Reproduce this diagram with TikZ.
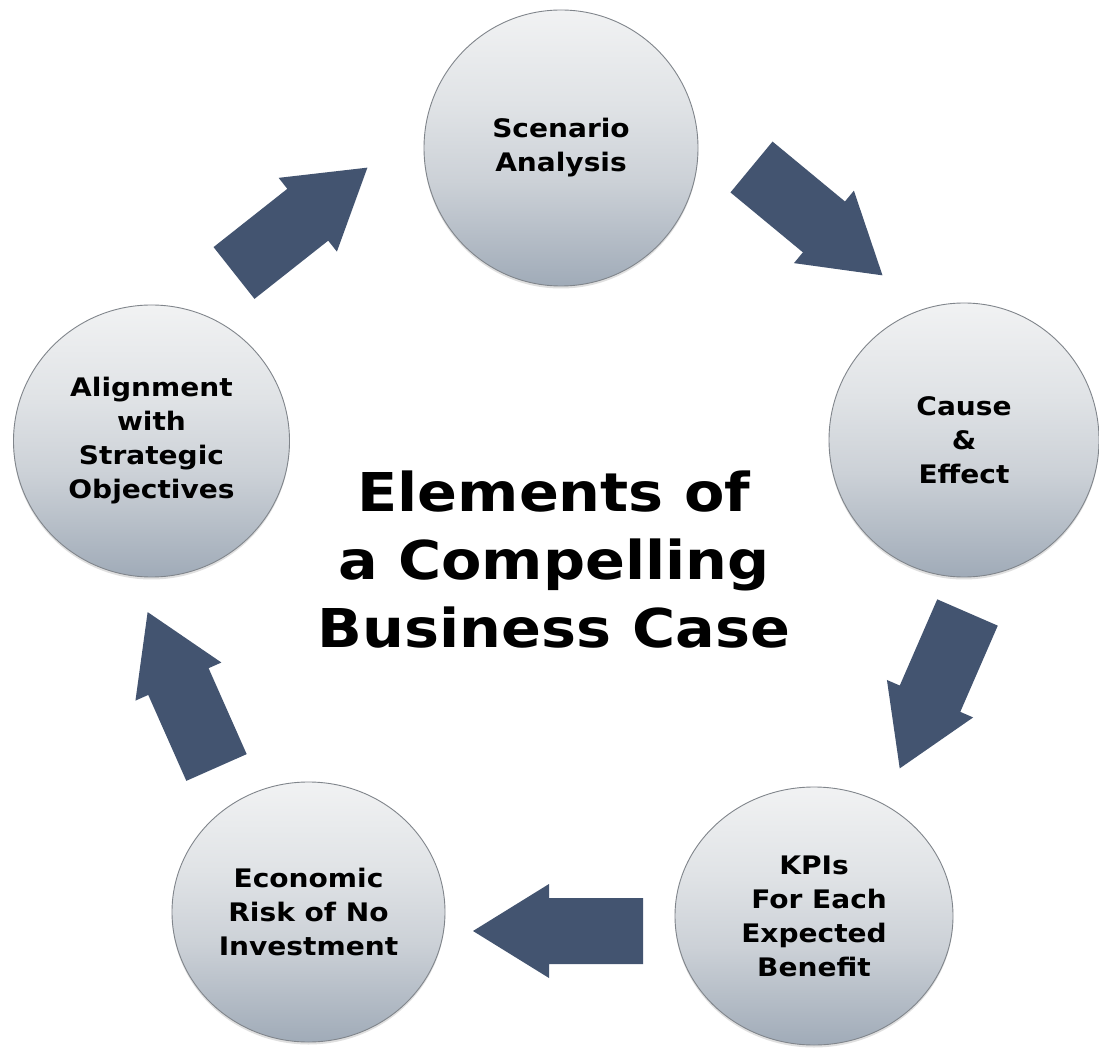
\documentclass[tikz,border=0pt]{standalone}
\usepackage{fontspec}
\newfontfamily\diagfont{DejaVu Sans}[FakeStretch=1.1]
\usetikzlibrary{shapes.geometric,shadows}

\definecolor{arrowblue}{RGB}{67,84,112}
\definecolor{discTop}{RGB}{241,242,243}
\definecolor{discUpper}{RGB}{224,227,230}
\definecolor{discLower}{RGB}{204,209,215}
\definecolor{discBot}{RGB}{160,171,184}
\definecolor{discEdge}{RGB}{128,133,139}

% light at the top, darkening towards the bottom of each disc
\pgfdeclareverticalshading{discshade}{100bp}{
  color(0bp)=(discBot); color(25bp)=(discBot); color(44bp)=(discLower);
  color(58bp)=(discUpper); color(75bp)=(discTop); color(100bp)=(discTop)}

\tikzset{
  disc/.style={ellipse, draw=discEdge, line width=0.9pt,
    shading=discshade,
    drop shadow={shadow xshift=0pt, shadow yshift=-2.5pt, opacity=0.25},
    inner sep=0pt, align=center, text=black,
    font=\diagfont\bfseries\fontsize{25.5}{34}\selectfont},
  headline/.style={align=center, text=black,
    font=\diagfont\bfseries\fontsize{53.5}{68}\selectfont},
  blockarrow/.pic={
    \fill[arrowblue] (0,-33) -- (94,-33) -- (94,-47) -- (170,0)
      -- (94,47) -- (94,33) -- (0,33) -- cycle;
  }
}

\begin{document}
\begin{tikzpicture}[x=1pt,y=1pt]
\useasboundingbox (0,0) rectangle (1099,1050);
\fill[white] (0,0) rectangle (1099,1050);

% the five elements
\node[disc, minimum width=274pt, minimum height=276pt] (scen) at (561,902) {Scenario\\Analysis};
\node[disc, minimum width=270pt, minimum height=274pt] (cause) at (964,610) {Cause\\\&\\Effect};
\node[disc, minimum width=278pt, minimum height=258pt] (kpi) at (814,134) {KPIs\\\hspace*{0.4em}For Each\\Expected\\Benefit};
\node[disc, minimum width=273pt, minimum height=260pt] (econ) at (308.5,138) {Economic\\Risk of No\\Investment};
\node[disc, minimum width=276pt, minimum height=272pt] (align) at (151.5,609) {Alignment\\with\\Strategic\\Objectives};

% central heading
\node[headline] (title) at (554,490) {Elements of\\a Compelling\\Business Case};

% block arrows running clockwise round the cycle
\coordinate (t1) at (234,777);
\coordinate (t2) at (751.5,883);
\coordinate (t3) at (967.5,437.5);
\coordinate (t4) at (643,119);
\coordinate (t5) at (216.5,282.5);
\pic[rotate=38.3] (a1) at (t1) {blockarrow};
\pic[rotate=-39.6] (a2) at (t2) {blockarrow};
\pic[rotate=-113.5] (a3) at (t3) {blockarrow};
\pic[rotate=180] (a4) at (t4) {blockarrow};
\pic[rotate=113.9] (a5) at (t5) {blockarrow};
\end{tikzpicture}
\end{document}
